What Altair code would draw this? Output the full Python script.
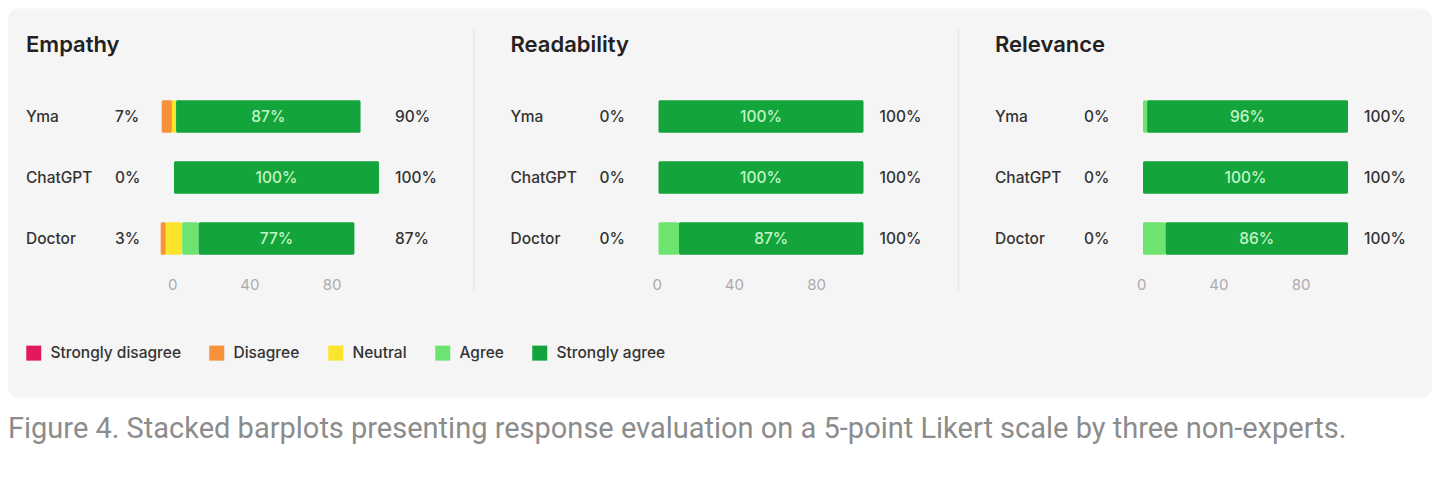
import altair as alt
import pandas as pd

# ---------------- data ----------------
metrics = ["Empathy", "Readability", "Relevance"]
respondents = ["Yma", "ChatGPT", "Doctor"]
levels = ["Strongly disagree", "Disagree", "Neutral", "Agree", "Strongly agree"]
level_colors = ["#e0195a", "#f7913a", "#fbe52c", "#6ce46f", "#13a43b"]

# segment shares per respondent (Yma, ChatGPT, Doctor)
empathy_sd = [0, 0, 0]
empathy_d = [5, 0, 2.5]
empathy_n = [2, 0, 8]
empathy_a = [0, 0, 8]
empathy_sa = [90, 100, 76]

readability_sd = [0, 0, 0]
readability_d = [0, 0, 0]
readability_n = [0, 0, 0]
readability_a = [0, 0, 10]
readability_sa = [100, 100, 90]

relevance_sd = [0, 0, 0]
relevance_d = [0, 0, 0]
relevance_n = [0, 0, 0]
relevance_a = [2, 0, 11]
relevance_sa = [98, 100, 89]

# printed labels
empathy_left = [7, 0, 3]
empathy_right = [90, 100, 87]
empathy_inbar = [87, 100, 77]
readability_left = [0, 0, 0]
readability_right = [100, 100, 100]
readability_inbar = [100, 100, 87]
relevance_left = [0, 0, 0]
relevance_right = [100, 100, 100]
relevance_inbar = [96, 100, 86]

axis_ticks = [0, 40, 80]
caption = ("Figure 4. Stacked barplots presenting response evaluation on a "
           "5-point Likert scale by three non-experts.")

segments = {
    "Empathy": [empathy_sd, empathy_d, empathy_n, empathy_a, empathy_sa],
    "Readability": [readability_sd, readability_d, readability_n, readability_a, readability_sa],
    "Relevance": [relevance_sd, relevance_d, relevance_n, relevance_a, relevance_sa],
}
labels = {
    "Empathy": (empathy_left, empathy_right, empathy_inbar),
    "Readability": (readability_left, readability_right, readability_inbar),
    "Relevance": (relevance_left, relevance_right, relevance_inbar),
}

seg_rows, lab_rows = [], []
for m in metrics:
    vals = segments[m]
    for i, r in enumerate(respondents):
        sd, d, n = vals[0][i], vals[1][i], vals[2][i]
        cum = -(sd + d + n / 2)
        mid = None
        for j, lev in enumerate(levels):
            v = vals[j][i]
            if v > 0:
                seg_rows.append({"metric": m, "respondent": r, "level": lev,
                                 "x0": cum, "x1": cum + v})
                if lev == "Strongly agree":
                    mid = cum + v / 2
            cum += v
        left, right, inbar = labels[m]
        lab_rows.append({"metric": m, "respondent": r,
                         "left_txt": f"{left[i]}%", "right_txt": f"{right[i]}%",
                         "in_txt": f"{inbar[i]}%", "mid": mid})

seg_df = pd.DataFrame(seg_rows)
lab_df = pd.DataFrame(lab_rows)

# ---------------- layout constants ----------------
FONT = "Inter"
FS = 15.5
W, H, S = 437, 183, 47.5
ZERO = 148          # pixel position of value 0 inside a panel
K = 2.05            # pixels per percentage point
CARD_TOP, CARD_BOTTOM = -77.5, 311.5
CARD_FILL = "#f5f5f5"

xscale = alt.Scale(domain=[-ZERO / K, (W - ZERO) / K], nice=False, zero=False)
xaxis = alt.Axis(values=axis_ticks, title=None, domain=False, ticks=False, tickSize=0,
                 grid=False, labelAlign="right", labelOffset=3, labelPadding=8,
                 labelColor="#ababab", labelFontSize=15, labelFont=FONT, zindex=1)
yenc = alt.Y("respondent:N", sort=respondents, axis=None,
             scale=alt.Scale(paddingInner=0.467, paddingOuter=0.2335))
legend = alt.Legend(orient="none", legendX=0, legendY=259, direction="horizontal",
                    title=None, symbolType="square", symbolSize=225, symbolStrokeWidth=0,
                    labelFontSize=FS, labelFont=FONT, labelFontWeight=500, labelColor="#333333",
                    columnPadding=28, labelOffset=9, padding=0, zindex=1)


def panel(idx, m):
    seg = seg_df[seg_df.metric == m]
    lab = lab_df[lab_df.metric == m]
    head = pd.DataFrame({"title": [m]})
    last = idx == len(metrics) - 1
    left_x = -18 if idx == 0 else -S / 2 - 0.5
    right_x = W if last else W + S / 2 + 0.5
    rect_kw = dict(color=CARD_FILL)
    if idx == 0:
        rect_kw.update(cornerRadiusTopLeft=10, cornerRadiusBottomLeft=10)
    if last:
        rect_kw.update(cornerRadiusTopRight=10, cornerRadiusBottomRight=10)
    card = alt.Chart(head).mark_rect(**rect_kw).encode(
        x=alt.value(left_x), x2=alt.value(right_x),
        y=alt.value(CARD_TOP), y2=alt.value(CARD_BOTTOM))
    title = alt.Chart(head).mark_text(align="left", baseline="alphabetic", fontSize=22,
                                      font=FONT, fontWeight=600, color="#222222").encode(
        x=alt.value(0), y=alt.value(-34), text="title:N")

    bars = alt.Chart(seg).mark_bar(cornerRadius=1.5).encode(
        x=alt.X("x0:Q", scale=xscale, axis=xaxis),
        x2="x1:Q",
        y=yenc,
        color=alt.Color("level:N", scale=alt.Scale(domain=levels, range=level_colors),
                        legend=legend),
    )
    inbar = alt.Chart(lab).mark_text(color="#c4f5c8", fontSize=FS, font=FONT,
                                     fontWeight=500).encode(
        x=alt.X("mid:Q", scale=xscale, axis=xaxis), y=yenc, text="in_txt:N")
    txt = dict(align="left", color="#333333", fontSize=FS, font=FONT, fontWeight=500)
    names = alt.Chart(lab).mark_text(**txt).encode(
        x=alt.value(0), y=yenc, text="respondent:N")
    lefts = alt.Chart(lab).mark_text(**txt).encode(
        x=alt.value(89), y=yenc, text="left_txt:N")
    rights = alt.Chart(lab).mark_text(**txt).encode(
        x=alt.value(369), y=yenc, text="right_txt:N")
    layers = [card, title]
    if not last:
        layers.append(alt.Chart(head).mark_rule(color="#e6e6e6", strokeWidth=1.5).encode(
            x=alt.value(448), y=alt.value(-57.5), y2=alt.value(204.5)))
    layers += [bars, inbar, names, lefts, rights]
    return alt.layer(*layers).properties(width=W, height=H)


chart = alt.hconcat(*[panel(i, m) for i, m in enumerate(metrics)],
                    spacing=S, bounds="flush").resolve_scale(color="shared").properties(
    title=alt.TitleParams(caption, orient="bottom", anchor="start", frame="bounds",
                          fontSize=29, font="Roboto", fontWeight=400, color="#8c8c8c",
                          offset=17, zindex=1),
    padding=0,
    background="white",
).configure_view(stroke=None)

chart.save("out.html", embed_options={"renderer": "svg", "actions": False})
